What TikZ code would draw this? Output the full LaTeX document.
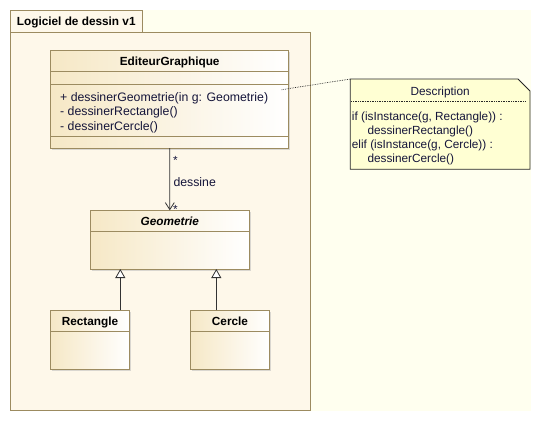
\documentclass[tikz,border=0pt]{standalone}
\usepackage{fontspec}
\setmainfont{Liberation Sans}
\usetikzlibrary{positioning, shapes, arrows.meta, calc, shadows}

\definecolor{umlborder}{HTML}{9C8B60}
\definecolor{umlfill}{HTML}{F6E8C6}
\definecolor{pkgfill}{HTML}{FEF8EA}
\definecolor{diagfill}{HTML}{FFFFEF}
\definecolor{notefill}{HTML}{FFFFD3}
\definecolor{umltext}{HTML}{15153A}

\newcommand{\umlsize}{\fontsize{11.8pt}{14.5pt}\selectfont}
\newcommand{\opsize}{\fontsize{12.3pt}{14.5pt}\selectfont}

\tikzset{
  pkgbox/.style={draw=umlborder, line width=0.9pt, fill=pkgfill, inner sep=0pt, outer sep=0pt, anchor=north west},
  pkgtab/.style={pkgbox, anchor=south west, font=\umlsize\bfseries, text depth=0pt},
  classbox/.style={draw=umlborder, line width=0.9pt, left color=umlfill, right color=white,
    inner sep=0pt, outer sep=0pt, anchor=north west,
    drop shadow={shadow xshift=1.6pt, shadow yshift=-1.6pt, fill=black!28}},
  classname/.style={anchor=base, inner sep=0pt, font=\umlsize\bfseries},
  classline/.style={draw=umlborder, line width=0.9pt},
  optext/.style={anchor=base west, inner sep=0pt, font=\umlsize, text=umltext},
  notebox/.style={inner sep=0pt, outer sep=0pt, anchor=north west},
  notedraw/.style={draw=black!85, line width=0.8pt, fill=notefill},
  notesep/.style={draw=black!85, line width=0.7pt, densely dotted},
  notelink/.style={draw=black!85, line width=0.7pt, densely dotted},
  assoc/.style={draw=black!80, line width=0.8pt, -{Straight Barb[length=7pt, width=9pt]}},
  inherit/.style={draw=black!80, line width=0.8pt, -{Triangle[open, fill=white, length=9pt, width=10pt]}}
}

\begin{document}
\begin{tikzpicture}[x=1pt, y=-1pt]
  \useasboundingbox (0,0) rectangle (541,421);
  \fill[diagfill] (10,10) rectangle (531,411);

  % package
  \node[pkgbox, minimum width=300, minimum height=378.5] (package) at (10.5,32) {};
  \node[pkgtab, minimum width=131.5, minimum height=22] (tab) at (package.north west) {Logiciel de dessin v1};

  % EditeurGraphique
  \node[classbox, minimum width=238, minimum height=97.3] (editeur) at (50.7,50.7) {};
  \node[classname] (editeurname) at ($(editeur.north)+(0,14.5)$) {EditeurGraphique};
  \draw[classline] ([yshift=-20.3pt]editeur.north west) -- ([yshift=-20.3pt]editeur.north east);
  \draw[classline] ([yshift=-33.3pt]editeur.north west) -- ([yshift=-33.3pt]editeur.north east);
  \draw[classline] ([yshift=-86pt]editeur.north west) -- ([yshift=-86pt]editeur.north east);
  \foreach \op [count=\i] in {{+ dessinerGeometrie(in g: Geometrie)}, {- dessinerRectangle()}, {- dessinerCercle()}}
    \node[optext, font=\opsize] (op\i) at ($(editeur.north west)+(9.3,35.8+14.5*\i)$) {\op};

  % Geometrie
  \node[classbox, minimum width=159, minimum height=58.7] (geometrie) at (90.3,210.3) {};
  \node[classname, font=\umlsize\bfseries\itshape] (geometriename) at ($(geometrie.north)+(0,14.7)$) {Geometrie};
  \draw[classline] ([yshift=-20.7pt]geometrie.north west) -- ([yshift=-20.7pt]geometrie.north east);

  % Rectangle et Cercle
  \node[classbox, minimum width=79.4, minimum height=59] (rectangle) at (50.3,310.3) {};
  \node[classname] (rectanglename) at ($(rectangle.north)+(0,14.7)$) {Rectangle};
  \draw[classline] ([yshift=-21pt]rectangle.north west) -- ([yshift=-21pt]rectangle.north east);

  \node[classbox, minimum width=79.4, minimum height=59] (cercle) at (190.3,310.3) {};
  \node[classname] (cerclename) at ($(cercle.north)+(0,14.7)$) {Cercle};
  \draw[classline] ([yshift=-21pt]cercle.north west) -- ([yshift=-21pt]cercle.north east);

  % association
  \draw[assoc] (editeur.south) -- (geometrie.north);
  \node[optext, anchor=base] (multsrc) at ($(editeur.south)+(5.6,16.8)$) {*};
  \node[optext, font=\opsize] (assocname) at ($(editeur.south)+(3.6,38.3)$) {dessine};
  \node[optext, anchor=base] (multdst) at ($(geometrie.north)+(5.5,2.9)$) {*};

  % generalisation
  \coordinate (genrect) at ($(geometrie.south west)+(30,0)$);
  \coordinate (gencercle) at ($(geometrie.south west)+(126,0)$);
  \draw[inherit] (rectangle.north -| genrect) -- (genrect);
  \draw[inherit] (cercle.north -| gencercle) -- (gencercle);

  % note
  \node[notebox, minimum width=179.7, minimum height=90.3] (note) at (350.3,79) {};
  \filldraw[notedraw] (note.north west) -- ([xshift=-12pt]note.north east) -- ([yshift=-12pt]note.north east)
    -- (note.south east) -- (note.south west) -- cycle;
  \node[optext, anchor=base] (notetitle) at ($(note.north)+(0,16)$) {Description};
  \draw[notesep] ($(note.north west)+(1,22)$) -- ($(note.north east)+(-5,22)$);
  \node[optext] (line1) at ($(note.north west)+(1.4,41)$) {if (isInstance(g, Rectangle)) :};
  \node[optext] (line2) at ($(note.north west)+(17,55.2)$) {dessinerRectangle()};
  \node[optext] (line3) at ($(note.north west)+(1.4,69.4)$) {elif (isInstance(g, Cercle)) :};
  \node[optext] (line4) at ($(note.north west)+(17,83.6)$) {dessinerCercle()};

  \coordinate (notestart) at ($(editeur.north east)+(-7,39)$);
  \draw[notelink] (notestart) -- (note.north west);
\end{tikzpicture}
\end{document}
